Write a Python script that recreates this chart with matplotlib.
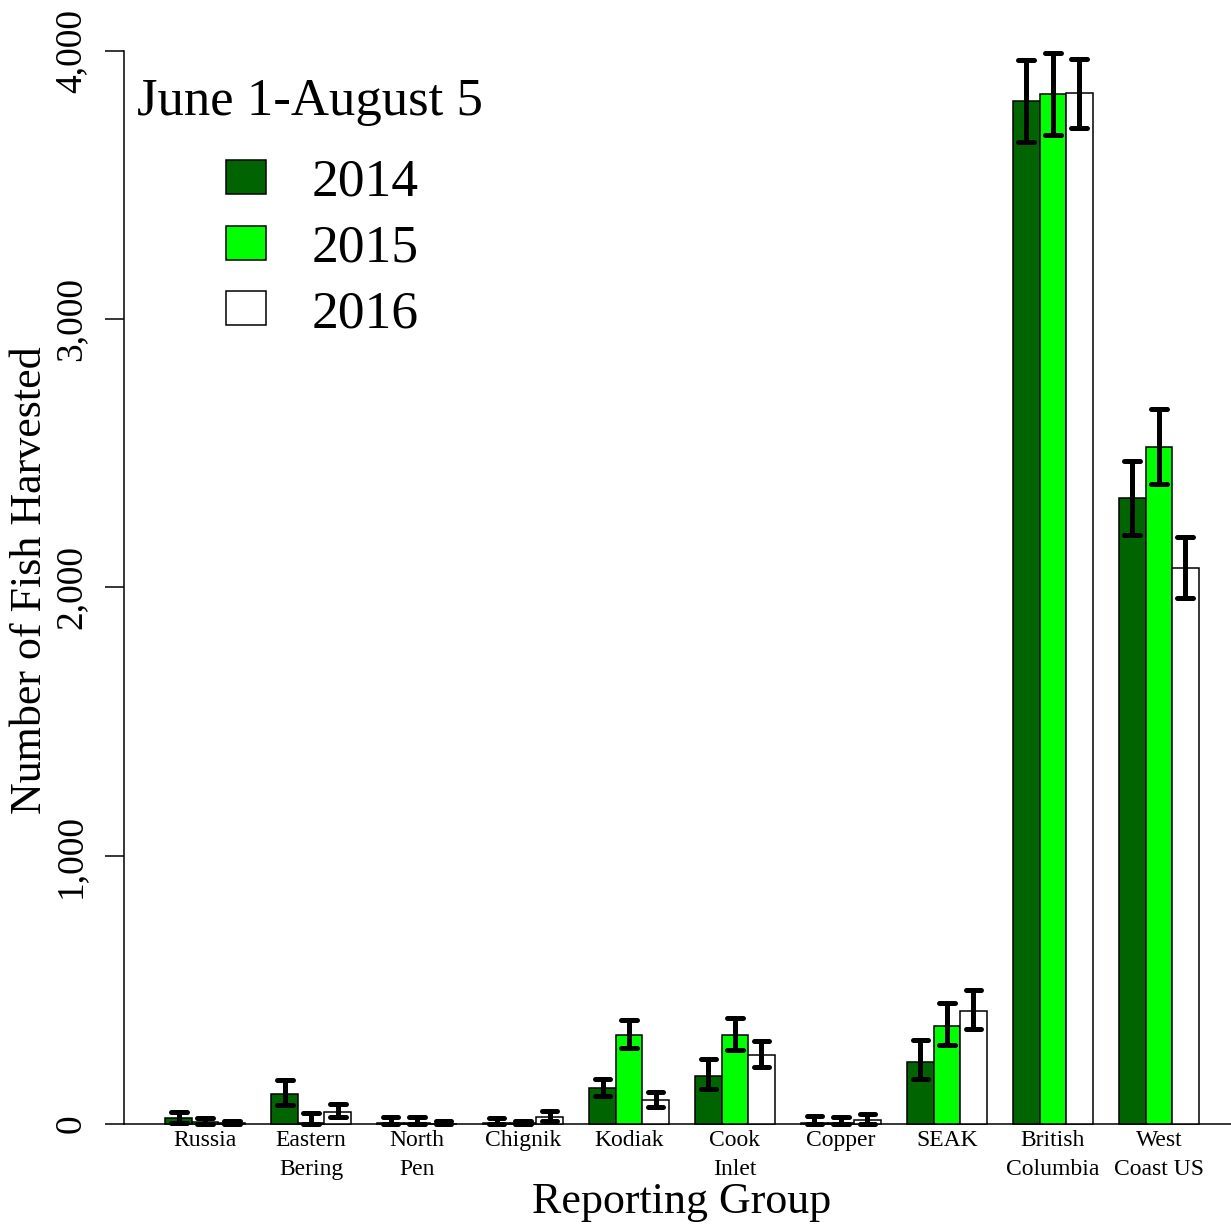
import numpy as np
import matplotlib.pyplot as plt
from matplotlib.patches import Patch

plt.rcParams['font.family'] = ['Liberation Serif', 'DejaVu Serif']

# reporting groups and harvest estimates
groups = ['Russia', 'Eastern\nBering', 'North\nPen', 'Chignik', 'Kodiak',
          'Cook\nInlet', 'Copper', 'SEAK', 'British\nColumbia', 'West\nCoast US']
years = ['2014', '2015', '2016']
colors = ['#006400', '#00ff00', '#ffffff']

harvest_2014 = [21, 112, 3, 5, 133, 180, 5, 232, 3815, 2333]
harvest_2015 = [8, 5, 3, 2, 332, 332, 5, 365, 3840, 2525]
harvest_2016 = [2, 46, 1, 27, 89, 257, 15, 421, 3843, 2074]

lower_2014 = [2, 71, 0, 0, 104, 130, 0, 169, 3660, 2195]
upper_2014 = [44, 164, 25, 21, 167, 242, 30, 313, 3966, 2473]
lower_2015 = [0, 0, 0, 0, 282, 276, 0, 295, 3687, 2387]
upper_2015 = [21, 42, 25, 12, 388, 394, 26, 450, 3991, 2665]
lower_2016 = [0, 25, 0, 10, 62, 211, 0, 354, 3712, 1962]
upper_2016 = [11, 75, 10, 48, 120, 309, 37, 500, 3969, 2188]

values = [harvest_2014, harvest_2015, harvest_2016]
lowers = [lower_2014, lower_2015, lower_2016]
uppers = [upper_2014, upper_2015, upper_2016]

W, H = 1231, 1225
fig = plt.figure(figsize=(W / 100, H / 100), dpi=100)
ax = fig.add_axes([124 / W, (H - 1124) / H, (1240 - 124) / W, (1124 - 8) / H])

n = len(groups)
group_start = 1 + 4 * np.arange(n)  # R barplot style: space of one bar before each group
for j in range(3):
    xc = group_start + j + 0.5
    ax.bar(xc, values[j], width=1.0, color=colors[j], edgecolor='black',
           linewidth=1.1, zorder=2, clip_on=False)
    ax.vlines(xc, lowers[j], uppers[j], color='black', linewidth=3.6,
              capstyle='round', zorder=3, clip_on=False)
    ax.hlines(lowers[j], xc - 0.3, xc + 0.3, color='black', linewidth=3.6,
              capstyle='round', zorder=3, clip_on=False)
    ax.hlines(uppers[j], xc - 0.3, xc + 0.3, color='black', linewidth=3.6,
              capstyle='round', zorder=3, clip_on=False)

ax.axhline(0, color='black', linewidth=1.1, zorder=1, clip_on=False)
ax.set_xlim(-0.56, 41.56)
ax.set_ylim(0, 4160)

for s in ['top', 'right', 'bottom']:
    ax.spines[s].set_visible(False)
ax.spines['left'].set_bounds(0, 4000)
ax.spines['left'].set_linewidth(1.1)

ax.set_yticks([0, 1000, 2000, 3000, 4000])
ax.set_yticklabels(['0', '1,000', '2,000', '3,000', '4,000'], rotation=90,
                   va='center', fontsize=27)
ax.tick_params(axis='y', length=13.7, width=1.1, pad=12)

ax.set_xticks(group_start + 1.5)
ax.set_xticklabels(groups, fontsize=17, linespacing=1.55, va='top')
ax.tick_params(axis='x', length=0, pad=4)

ax.set_xlabel('Reporting Group', fontsize=31.7, va='baseline')
ax.xaxis.set_label_coords(682 / W, 1 - 1213 / H, transform=fig.transFigure)
ax.set_ylabel('Number of Fish Harvested', fontsize=31.7, va='center')
ax.yaxis.set_label_coords(30 / W, 1 - 580 / H, transform=fig.transFigure)

fig.text(137 / W, 1 - 115 / H, 'June 1-August 5', fontsize=38, va='baseline', ha='left')
handles = [Patch(facecolor=c, edgecolor='black', linewidth=1.1) for c in colors]
ax.legend(handles, years, loc='upper left', bbox_to_anchor=(226 / W, 1 - 159 / H),
          bbox_transform=fig.transFigure, frameon=False, fontsize=38.5,
          borderpad=0, borderaxespad=0, handlelength=0.74, handleheight=0.6,
          handletextpad=0.86, labelspacing=0.33)

fig.savefig('out.png', dpi=100)
